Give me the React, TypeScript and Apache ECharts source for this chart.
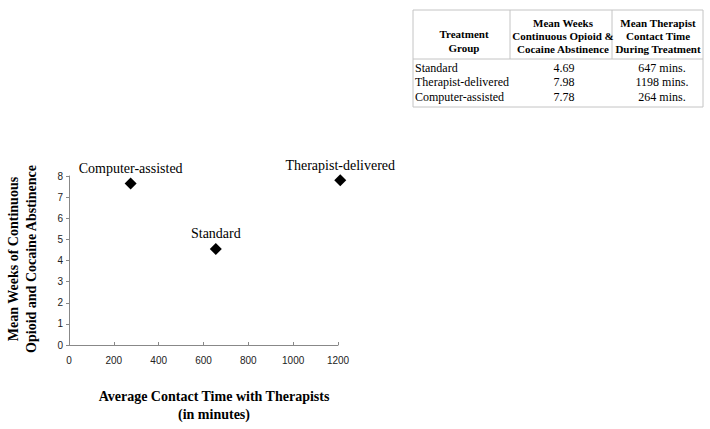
import React, { useEffect, useRef } from "react";
import * as echarts from "echarts";

const groups = ["Computer-assisted", "Standard", "Therapist-delivered"];
const contactMinutes = [275, 655, 1210];
const abstinenceWeeks = [7.65, 4.55, 7.8];

const tableHeaders = [
  ["Treatment", "Group"],
  ["Mean Weeks", "Continuous Opioid &", "Cocaine Abstinence"],
  ["Mean Therapist", "Contact Time", "During Treatment"],
];
const tableGroups = ["Standard", "Therapist-delivered", "Computer-assisted"];
const tableWeeks = ["4.69", "7.98", "7.78"];
const tableMinutes = ["647 mins.", "1198 mins.", "264 mins."];

const xTitle = ["Average Contact Time with Therapists", "(in minutes)"];
const yTitle = ["Mean Weeks of Continuous", "Opioid and Cocaine Abstinence"];

const SERIF = "'Liberation Serif', 'Times New Roman', serif";
const SANS = "'Liberation Sans', Arial, sans-serif";

export default function App() {
  const ref = useRef<HTMLDivElement>(null);
  useEffect(() => {
    if (!ref.current) return;
    const chart = echarts.init(ref.current, null, { renderer: "svg" });

    const graphics: any[] = [];
    // table frame
    const tx0 = 413, tx1 = 703, ty0 = 10, ty1 = 107, th = 59;
    const colX = [413, 510, 612, 703];
    const lineStyle = { stroke: "#c4c4c4", lineWidth: 1 };
    graphics.push({ type: "rect", shape: { x: tx0, y: ty0, width: tx1 - tx0, height: ty1 - ty0 }, style: { fill: "#fff", ...lineStyle } });
    graphics.push({ type: "line", shape: { x1: tx0, y1: th, x2: tx1, y2: th }, style: lineStyle });
    graphics.push({ type: "line", shape: { x1: colX[1], y1: ty0, x2: colX[1], y2: th }, style: lineStyle });
    graphics.push({ type: "line", shape: { x1: colX[2], y1: ty0, x2: colX[2], y2: th }, style: lineStyle });
    const headerCx = [464, 563, 658];
    tableHeaders.forEach((lines, i) => {
      const ys = lines.length === 2 ? [34, 48] : [23, 36, 49];
      lines.forEach((t, j) => {
        graphics.push({
          type: "text",
          x: headerCx[i],
          y: ys[j],
          style: { text: t, fontFamily: SERIF, fontWeight: "bold", fontSize: 11, fill: "#000", align: "center", verticalAlign: "middle" },
        });
      });
    });
    const rowY = [68, 82, 97];
    tableGroups.forEach((g, i) => {
      const base = { fontFamily: SERIF, fontSize: 12, fill: "#000", verticalAlign: "middle" };
      graphics.push({ type: "text", x: 415, y: rowY[i], style: { ...base, text: g, align: "left" } });
      graphics.push({ type: "text", x: 564, y: rowY[i], style: { ...base, text: tableWeeks[i], align: "center" } });
      graphics.push({ type: "text", x: 662, y: rowY[i], style: { ...base, text: tableMinutes[i], align: "center" } });
    });
    // axis titles
    xTitle.forEach((t, j) => {
      graphics.push({
        type: "text",
        x: 214,
        y: 396 + j * 18,
        style: { text: t, fontFamily: SERIF, fontWeight: "bold", fontSize: 14, fill: "#000", align: "center", verticalAlign: "middle" },
      });
    });
    yTitle.forEach((t, j) => {
      graphics.push({
        type: "text",
        x: 13 + j * 18,
        y: 259,
        rotation: Math.PI / 2,
        style: { text: t, fontFamily: SERIF, fontWeight: "bold", fontSize: 14, fill: "#000", align: "center", verticalAlign: "middle" },
      });
    });

    chart.setOption({
      animation: false,
      backgroundColor: "#fff",
      grid: { left: 69, right: 372, top: 176, bottom: 84, containLabel: false },
      xAxis: {
        type: "value",
        min: 0,
        max: 1200,
        interval: 200,
        axisLine: { show: true, lineStyle: { color: "#888", width: 1 } },
        axisTick: { show: true, inside: true, length: 3, lineStyle: { color: "#888" } },
        axisLabel: { fontFamily: SANS, fontSize: 10, color: "#222", margin: 10, formatter: (v: number) => String(v) },
        splitLine: { show: false },
      },
      yAxis: {
        type: "value",
        min: 0,
        max: 8,
        interval: 1,
        axisLine: { show: true, lineStyle: { color: "#888", width: 1 } },
        axisTick: { show: true, inside: false, length: 3, lineStyle: { color: "#888" } },
        axisLabel: { fontFamily: SANS, fontSize: 10, color: "#222", margin: 6 },
        splitLine: { show: false },
      },
      series: [
        {
          type: "scatter",
          symbol: "diamond",
          symbolSize: 12,
          clip: false,
          itemStyle: { color: "#000", opacity: 1 },
          data: groups.map((g, i) => ({ name: g, value: [contactMinutes[i], abstinenceWeeks[i]] })),
          label: {
            show: true,
            position: "top",
            distance: 2,
            formatter: (p: any) => p.name,
            fontFamily: SERIF,
            fontSize: 14,
            color: "#000",
            opacity: 1,
            textBorderWidth: 0,
          },
        },
      ],
      graphic: graphics,
    });
    return () => chart.dispose();
  }, []);
  return <div ref={ref} style={{ width: 710, height: 429, position: "absolute", left: 0, top: 0 }} />;
}
